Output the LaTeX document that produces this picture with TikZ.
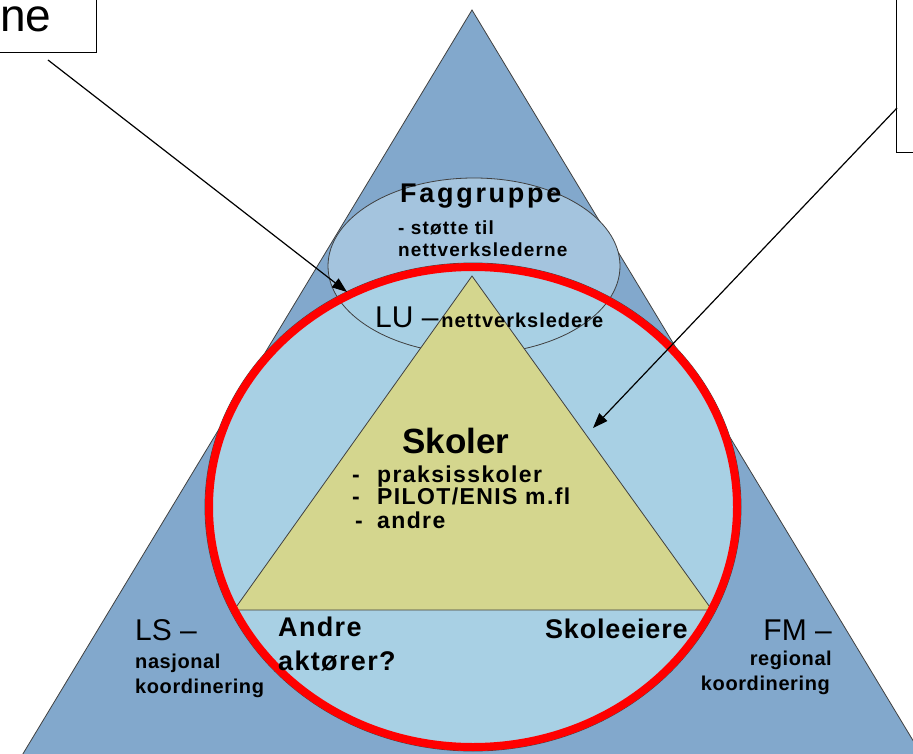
\documentclass[tikz,border=0pt]{standalone}
\usepackage{fontspec}
\setmainfont{Liberation Sans}
\usetikzlibrary{arrows.meta,positioning}
\definecolor{outerblue}{HTML}{82A8CC}
\definecolor{innerblue}{HTML}{A8D0E4}
\definecolor{hatchblue}{HTML}{A4C4DE}
\definecolor{schoolyellow}{HTML}{D4D68E}
\newcommand{\lsp}[3]{\fontsize{#1}{#2}\selectfont\bfseries\addfontfeatures{LetterSpace=#3}}
\newcommand{\bigtxt}[1]{{\fontsize{30}{32}\selectfont #1}}

\begin{document}
\begin{tikzpicture}[x=1pt,y=-1pt,
  txt/.style={inner sep=0pt,anchor=base west},
  rtxt/.style={inner sep=0pt,anchor=base east},
  ptr/.style={-{Triangle[length=15pt,width=11pt]},line width=1.2pt},
  note/.style={draw,line width=1pt,fill=white}]
\useasboundingbox (0,0) rectangle (913,754);
\clip (0,0) rectangle (913,754);
% shapes
\draw[fill=outerblue,draw=black!75,line width=0.8pt] (472,10) -- (926,762) -- (18,762) -- cycle;
\fill[hatchblue] (474,266) ellipse [x radius=146,y radius=88];
\filldraw[fill=innerblue,draw=black!75,line width=0.8pt] (473,507) ellipse [x radius=268,y radius=244];
\draw[black!75,line width=0.8pt] (474,266) ellipse [x radius=146,y radius=88];
\draw[fill=schoolyellow,draw=black!75,line width=0.8pt] (472,276) -- (712,610) -- (234,610) -- cycle;
\draw[red,line width=8pt] (473,507) ellipse [x radius=264,y radius=240];

% notes
\node[note,anchor=south east,inner xsep=45pt,inner ysep=21pt,font=\fontsize{46}{46}\selectfont] (noteL) at (97,53) {ne};
\node[note,anchor=south west,minimum width=40pt,minimum height=200pt] (noteR) at (896,153) {};

% labels
\node[txt,font=\lsp{27}{28}{10}] (fag) at (400,203) {Faggruppe};
\node[txt,font=\lsp{19}{20}{6}] (fagA) at (398,235) {- støtte til};
\node[txt,font=\lsp{19}{20}{6}] (fagB) at (398,257) {nettverkslederne};
\node[txt] (lu) at (375,327) {\bigtxt{LU –} {\lsp{20}{20}{5}nettverksledere}};
\node[txt,font=\lsp{35}{38}{0}] (skoler) at (402,453) {Skoler};
\node[txt,font=\lsp{23}{24}{6}] (liA) at (352,482) {\makebox[25pt][l]{-}praksisskoler};
\node[txt,font=\lsp{23}{24}{6}] (liB) at (352,504) {\makebox[25pt][l]{-}PILOT/ENIS m.fl};
\node[txt,font=\lsp{23}{24}{6}] (liC) at (355,528) {\makebox[22pt][l]{-}andre};
\node[txt,font=\lsp{27}{28}{5}] (andA) at (278,636) {Andre};
\node[txt,font=\lsp{27}{28}{5}] (andB) at (278,670) {aktører?};
\node[txt,font=\lsp{27}{28}{3}] (eier) at (545,638) {Skoleeiere};
\node[txt] (ls) at (135,640) {\bigtxt{LS –}};
\node[txt,font=\lsp{20}{22}{3}] (lsA) at (135,668) {nasjonal};
\node[txt,font=\lsp{20}{22}{3}] (lsB) at (135,693) {koordinering};
\node[rtxt] (fm) at (832,640) {\bigtxt{FM –}};
\node[rtxt,font=\lsp{20}{22}{3}] (fmA) at (832,665) {regional};
\node[rtxt,font=\lsp{20}{22}{3}] (fmB) at (830,690) {koordinering};

% pointers
\coordinate (fromL) at (48,60);
\coordinate (tipLU) at (347,292);
\coordinate (fromR) at (897,108);
\coordinate (tipSk) at (593,428);
\draw[ptr] (fromL) -- (tipLU);
\draw[ptr] (fromR) -- (tipSk);
\end{tikzpicture}
\end{document}
